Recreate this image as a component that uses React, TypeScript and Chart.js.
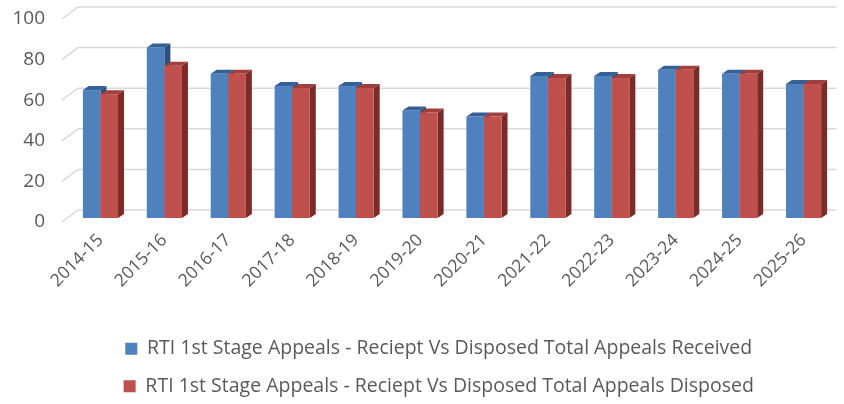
import React, { useEffect, useRef } from "react";
import { Chart, registerables } from "chart.js";

Chart.register(...registerables);

const categories = [
  "2014-15", "2015-16", "2016-17", "2017-18", "2018-19", "2019-20",
  "2020-21", "2021-22", "2022-23", "2023-24", "2024-25", "2025-26",
];
const received = [63, 84, 71, 65, 65, 53, 50, 70, 70, 73, 71, 66];
const disposed = [61, 75, 71, 64, 64, 52, 50, 69, 69, 73, 71, 66];
const yTicks = [0, 20, 40, 60, 80, 100];
const seriesNames = [
  "RTI 1st Stage Appeals - Reciept Vs Disposed Total Appeals Received",
  "RTI 1st Stage Appeals - Reciept Vs Disposed Total Appeals Disposed",
];

const FRONT = ["#4F81BD", "#C0504D"];
const TOP = ["#345F97", "#A13F3C"];
const SIDE = ["#2B4F7E", "#7B2C2A"];
const TEXT = "#595959";
const FONT = "'Open Sans', Lato, sans-serif";

const DX = 6;
const DY = 4;

const bar3dPlugin = {
  id: "bar3d",
  beforeDatasetsDraw(chart: any) {
    const { ctx, chartArea } = chart;
    const y = chart.scales.y;
    ctx.save();
    ctx.strokeStyle = "#D9D9D9";
    ctx.lineWidth = 1.5;
    const frontLeft = chartArea.left - 6.5;
    const backLeft = chartArea.left + 9.5;
    ctx.font = "19px " + FONT;
    ctx.fillStyle = TEXT;
    ctx.textAlign = "right";
    ctx.textBaseline = "middle";
    for (const v of yTicks) {
      const py = y.getPixelForValue(v);
      ctx.beginPath();
      ctx.moveTo(frontLeft, py + 4);
      ctx.lineTo(backLeft, py - 8);
      ctx.lineTo(chartArea.right + 1, py - 8);
      ctx.stroke();
      ctx.fillText(String(v), 45, py + 4);
    }
    ctx.restore();
  },
  beforeDatasetDraw() {
    return false;
  },
  afterDatasetsDraw(chart: any) {
    const { ctx } = chart;
    ctx.save();
    for (let d = 0; d < chart.data.datasets.length; d++) {
      const meta = chart.getDatasetMeta(d);
      meta.data.forEach((el: any) => {
        const { x, y, base, width } = el.getProps(["x", "y", "base", "width"], true);
        const l = x - width / 2;
        const r = x + width / 2;
        ctx.fillStyle = TOP[d];
        ctx.beginPath();
        ctx.moveTo(l, y);
        ctx.lineTo(l + DX, y - DY);
        ctx.lineTo(r + DX, y - DY);
        ctx.lineTo(r, y);
        ctx.closePath();
        ctx.fill();
        ctx.fillStyle = SIDE[d];
        ctx.beginPath();
        ctx.moveTo(r, y);
        ctx.lineTo(r + DX, y - DY);
        ctx.lineTo(r + DX, base - DY);
        ctx.lineTo(r, base);
        ctx.closePath();
        ctx.fill();
        ctx.fillStyle = FRONT[d];
        ctx.fillRect(l, y, r - l, base - y);
      });
    }
    ctx.restore();
  },
};

export default function App() {
  const ref = useRef<HTMLCanvasElement | null>(null);
  useEffect(() => {
    if (!ref.current) return;
    const chart = new Chart(ref.current, {
      type: "bar",
      data: {
        labels: categories,
        datasets: [
          { label: seriesNames[0], data: received, backgroundColor: FRONT[0], borderWidth: 0 },
          { label: seriesNames[1], data: disposed, backgroundColor: FRONT[1], borderWidth: 0 },
        ],
      },
      options: {
        animation: false,
        responsive: false,
        devicePixelRatio: 1,
        datasets: { bar: { categoryPercentage: 0.55, barPercentage: 1 } },
        layout: { padding: { left: 42, right: 8.5, top: 15, bottom: -2 } },
        scales: {
          x: {
            grid: { display: false, drawTicks: false },
            border: { display: false },
            ticks: {
              autoSkip: false,
              minRotation: 45,
              maxRotation: 45,
              padding: 12,
              color: TEXT,
              font: { family: FONT, size: 17.5 },
            },
            afterFit: (s: any) => {
              s.height = 103;
            },
          },
          y: {
            min: 0,
            max: 100,
            grid: { display: false },
            border: { display: false },
            ticks: { display: false },
            afterFit: (s: any) => {
              s.width = 26.5;
            },
          },
        },
        plugins: {
          tooltip: { enabled: false },
          legend: {
            position: "bottom",
            labels: {
              boxWidth: 12,
              boxHeight: 12,
              padding: 18,
              color: TEXT,
              font: { family: FONT, size: 19.5 },
            },
          },
        },
      },
      plugins: [bar3dPlugin],
    });
    return () => chart.destroy();
  }, []);
  return (
    <div style={{ position: "fixed", left: 0, top: 0, width: 844, height: 404, background: "#fff" }}>
      <canvas ref={ref} width={844} height={404} style={{ width: 844, height: 404 }} />
    </div>
  );
}
